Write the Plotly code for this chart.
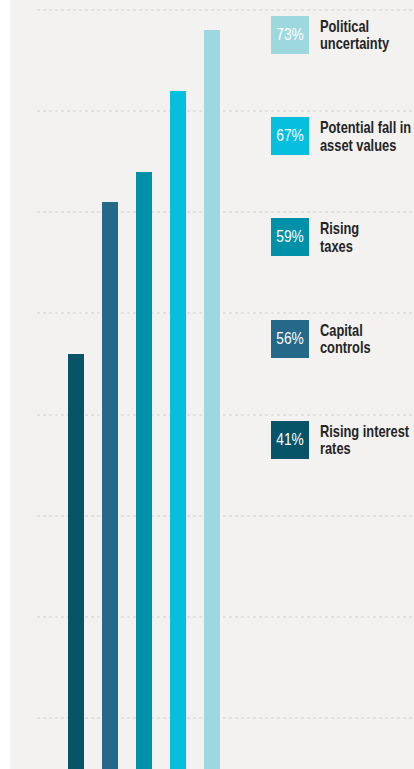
import plotly.graph_objects as go

# Data (bars left to right)
categories = ["Rising interest rates", "Capital controls", "Rising taxes",
              "Potential fall in asset values", "Political uncertainty"]
values = [41, 56, 59, 67, 73]
colors = ["#075368", "#266887", "#0090a7", "#06bfde", "#9dd8df"]
# Legend labels (two lines each), top to bottom, with their bar index
legend_lines = [
    ("Political", "uncertainty"),
    ("Potential fall in", "asset values"),
    ("Rising", "taxes"),
    ("Capital", "controls"),
    ("Rising interest", "rates"),
]
legend_order = [4, 3, 2, 1, 0]
grid_vals = [5, 15, 25, 35, 45, 55, 65, 75]

W, H = 414, 769
L, R = 37, 0
plot_w = W - L - R
px_per_unit = H / 75.95

fig = go.Figure()
fig.add_trace(go.Bar(
    x=list(range(len(values))), y=values,
    marker=dict(color=colors, line=dict(width=0)),
    width=0.47, hoverinfo="skip", showlegend=False,
))

def px_to_paper(px):
    return (px - L) / plot_w

FONT = "Liberation Sans, Arial, sans-serif"

annotations = []
for row, idx in enumerate(legend_order):
    yc = grid_vals[-1 - row] - 2.5
    annotations.append(dict(
        x=px_to_paper(290), xref="paper", y=yc, yref="y",
        xanchor="center", yanchor="middle",
        text=f"{values[idx]}%", showarrow=False,
        width=38, height=38, bgcolor=colors[idx], borderpad=0, borderwidth=0,
        font=dict(family=FONT, size=16, color="white"),
    ))
    l1, l2 = legend_lines[row]
    for txt, dy in ((l1, 8.5), (l2, -9.0)):
        annotations.append(dict(
            x=px_to_paper(318.5), xref="paper", y=yc + dy / px_per_unit, yref="y",
            xanchor="left", yanchor="middle", align="left",
            text=f"<b>{txt}</b>", showarrow=False, borderpad=0,
            font=dict(family=FONT, size=17, color="#242424"),
        ))

fig.update_layout(
    width=W, height=H,
    margin=dict(l=L, r=R, t=0, b=0, pad=0),
    paper_bgcolor="white",
    plot_bgcolor="rgba(0,0,0,0)",
    shapes=[dict(type="rect", xref="paper", yref="paper",
                 x0=px_to_paper(10), x1=1, y0=-0.01, y1=1.01,
                 fillcolor="#f3f2f0", line=dict(width=0), layer="below")],
    xaxis=dict(range=[-1.147, 9.94], showgrid=False, zeroline=False,
               showticklabels=False, ticks="", showline=False, fixedrange=True),
    yaxis=dict(range=[0, 75.95], tickvals=grid_vals, showgrid=True,
               gridcolor="#e2e1df", gridwidth=1.5, griddash="dot",
               zeroline=False, showticklabels=False, ticks="", showline=False,
               fixedrange=True),
    annotations=annotations,
    bargap=0,
)

post_js = """
document.body.style.margin = '0';
document.body.style.overflow = 'hidden';
(function(){
  var gd = document.getElementById('{plot_id}');
  function squeeze(){
    gd.querySelectorAll('text.annotation-text').forEach(function(t){
      var isLabel = t.textContent.indexOf('%') < 0;
      t.style.transformBox = 'fill-box';
      t.style.transformOrigin = isLabel ? 'left center' : 'center center';
      t.style.transform = 'scaleX(' + (isLabel ? 0.755 : 0.86) + ')';
    });
  }
  squeeze();
  if (gd.on) { gd.on('plotly_afterplot', squeeze); }
})();
"""

fig.write_html("out.html", config={"displayModeBar": False}, post_script=post_js)
